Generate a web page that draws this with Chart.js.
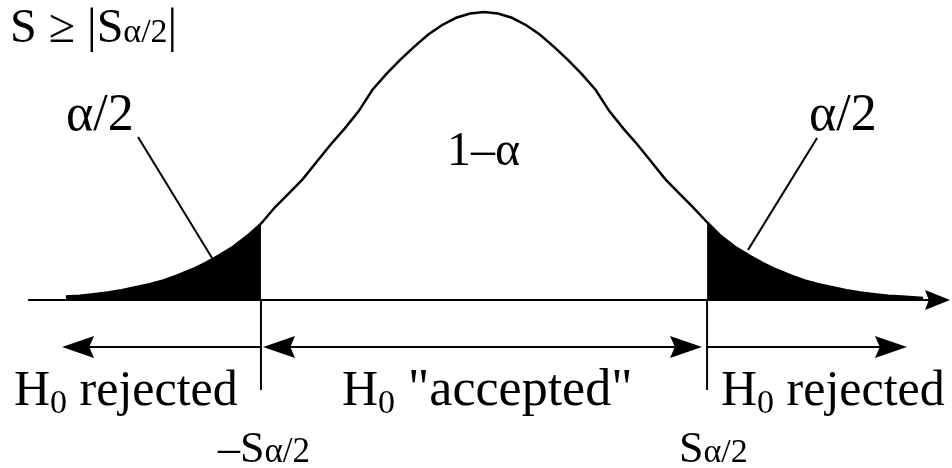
<!DOCTYPE html>
<html><head><meta charset="utf-8">
<script src="https://cdn.jsdelivr.net/npm/chart.js@4.4.0/dist/chart.umd.min.js"></script>
<style>html,body{margin:0;padding:0;background:#fff;} #wrap{width:952px;height:468px;position:relative;}</style>
</head><body><div id="wrap"><canvas id="c" width="952" height="468"></canvas></div>
<script>
// Curve (x in units of the test statistic, y relative height, peak = 1)
const curveX = [-3.0,-2.9,-2.8,-2.7,-2.6,-2.5,-2.4,-2.3,-2.2,-2.1,-2.0,-1.9,-1.8,-1.7,-1.6,-1.5,-1.4,-1.3,-1.2,-1.1,-1.0,-0.9,-0.8,-0.7,-0.6,-0.5,-0.4,-0.3,-0.2,-0.1,0.0,0.1,0.2,0.3,0.4,0.5,0.6,0.7,0.8,0.9,1.0,1.1,1.2,1.3,1.4,1.5,1.6,1.7,1.8,1.9,2.0,2.1,2.2,2.3,2.4,2.5,2.6,2.7,2.8,2.9,3.0,3.1,3.15];
const curveY = [0.012,0.015,0.020,0.026,0.034,0.044,0.055,0.068,0.085,0.105,0.128,0.155,0.185,0.222,0.265,0.322,0.37,0.42,0.48,0.54,0.595,0.655,0.73,0.785,0.835,0.88,0.922,0.955,0.98,0.995,1.0,0.995,0.98,0.955,0.922,0.88,0.835,0.785,0.73,0.655,0.595,0.54,0.48,0.42,0.37,0.322,0.27,0.222,0.185,0.155,0.128,0.105,0.085,0.068,0.055,0.044,0.034,0.026,0.020,0.015,0.012,0.009,0.007];
const criticalValue = 1.6;           // S_alpha/2
const axisStart = -3.27, axisEnd = 3.343;
const arrowLevel = -0.163;           // y of the region arrows
const tickBottom = -0.3125;          // bottom of the critical-value ticks
const arrowLeftTip = -3.027, arrowRightTip = 3.034, innerLeftTip = -1.585, innerRightTip = 1.564;
const leaderLeft = [[-2.482, 0.566], [-1.951, 0.146]];
const leaderRight = [[2.389, 0.5625], [1.894, 0.174]];
const xRange = [-3.472, 3.357];
const yRange = [-0.5833, 1.0417];

const pts = curveX.map((x, i) => ({x, y: curveY[i]}));
const leftTail = pts.filter(p => p.x <= -criticalValue + 1e-9);
const rightTail = pts.filter(p => p.x >= criticalValue - 1e-9);

const FONT = '"Liberation Serif", "Times New Roman", serif';
function rich(ctx, x, y, parts) {
  for (const [t, size, dy] of parts) {
    ctx.font = size + 'px ' + FONT;
    ctx.fillText(t, x, y + (dy || 0));
    x += ctx.measureText(t).width;
  }
}
function arrow(ctx, x1, y1, x2, y2, len, half) {
  const a = Math.atan2(y2 - y1, x2 - x1);
  ctx.beginPath();
  ctx.moveTo(x2, y2);
  ctx.lineTo(x2 - len * Math.cos(a) + half * Math.sin(a), y2 - len * Math.sin(a) - half * Math.cos(a));
  ctx.lineTo(x2 - len * 0.85 * Math.cos(a), y2 - len * 0.85 * Math.sin(a));
  ctx.lineTo(x2 - len * Math.cos(a) - half * Math.sin(a), y2 - len * Math.sin(a) + half * Math.cos(a));
  ctx.closePath();
  ctx.fill();
}

const overlay = {
  id: 'overlay',
  afterDatasetsDraw(chart) {
    const {ctx, scales: {x, y}} = chart;
    const X = v => x.getPixelForValue(v), Y = v => y.getPixelForValue(v);
    ctx.save();
    ctx.strokeStyle = '#000'; ctx.fillStyle = '#000'; ctx.lineWidth = 2; ctx.lineCap = 'butt';
    // horizontal axis
    ctx.beginPath(); ctx.moveTo(X(axisStart), Y(0)); ctx.lineTo(X(axisEnd) - 20, Y(0)); ctx.stroke();
    arrow(ctx, X(axisStart), Y(0), X(axisEnd), Y(0), 25, 10);
    // critical ticks
    for (const c of [-criticalValue, criticalValue]) {
      ctx.beginPath(); ctx.moveTo(X(c), Y(0)); ctx.lineTo(X(c), Y(tickBottom)); ctx.stroke();
    }
    // region arrows
    const ay = Y(arrowLevel);
    ctx.beginPath(); ctx.moveTo(X(-criticalValue), ay); ctx.lineTo(X(arrowLeftTip) + 20, ay); ctx.stroke();
    arrow(ctx, X(-criticalValue), ay, X(arrowLeftTip), ay, 32, 11);
    ctx.beginPath(); ctx.moveTo(X(innerLeftTip) + 20, ay); ctx.lineTo(X(innerRightTip) - 20, ay); ctx.stroke();
    arrow(ctx, X(innerRightTip), ay, X(innerLeftTip), ay, 32, 11);
    arrow(ctx, X(innerLeftTip), ay, X(innerRightTip), ay, 32, 11);
    ctx.beginPath(); ctx.moveTo(X(criticalValue), ay); ctx.lineTo(X(arrowRightTip) - 20, ay); ctx.stroke();
    arrow(ctx, X(criticalValue), ay, X(arrowRightTip), ay, 32, 11);
    // leader lines
    for (const L of [leaderLeft, leaderRight]) {
      ctx.beginPath(); ctx.moveTo(X(L[0][0]), Y(L[0][1])); ctx.lineTo(X(L[1][0]), Y(L[1][1])); ctx.stroke();
    }
    // texts
    ctx.textBaseline = 'alphabetic'; ctx.textAlign = 'left';
    rich(ctx, 10, 42, [['S \u2265 |S', 48], ['\u03b1/2', 34], ['|', 48]]);
    rich(ctx, 66, 130, [['\u03b1/2', 52]]);
    rich(ctx, 809, 130, [['\u03b1/2', 52]]);
    rich(ctx, 447, 165, [['1\u2013\u03b1', 48]]);
    rich(ctx, 14, 405, [['H', 50], ['0', 34, 8], [' rejected', 50]]);
    rich(ctx, 342, 405, [['H', 50], ['0', 34, 8], [' "accepted"', 52]]);
    rich(ctx, 721, 405, [['H', 50], ['0', 34, 8], [' rejected', 50]]);
    rich(ctx, 218, 462, [['\u2013S', 44], ['\u03b1/2', 35]]);
    rich(ctx, 679, 462, [['S', 44], ['\u03b1/2', 34]]);
    ctx.restore();
  }
};

new Chart(document.getElementById('c'), {
  type: 'line',
  data: {
    datasets: [
      {data: leftTail, borderWidth: 0, borderColor: '#000', backgroundColor: '#000', fill: 'origin', pointRadius: 0},
      {data: rightTail, borderWidth: 0, borderColor: '#000', backgroundColor: '#000', fill: 'origin', pointRadius: 0},
      {data: pts, borderWidth: 2.5, borderColor: '#000', fill: false, pointRadius: 0, tension: 0}
    ]
  },
  options: {
    responsive: false, animation: false,
    layout: {padding: 0},
    plugins: {legend: {display: false}, tooltip: {enabled: false}},
    scales: {
      x: {type: 'linear', min: xRange[0], max: xRange[1], display: false},
      y: {min: yRange[0], max: yRange[1], display: false}
    }
  },
  plugins: [overlay]
});
</script></body></html>
